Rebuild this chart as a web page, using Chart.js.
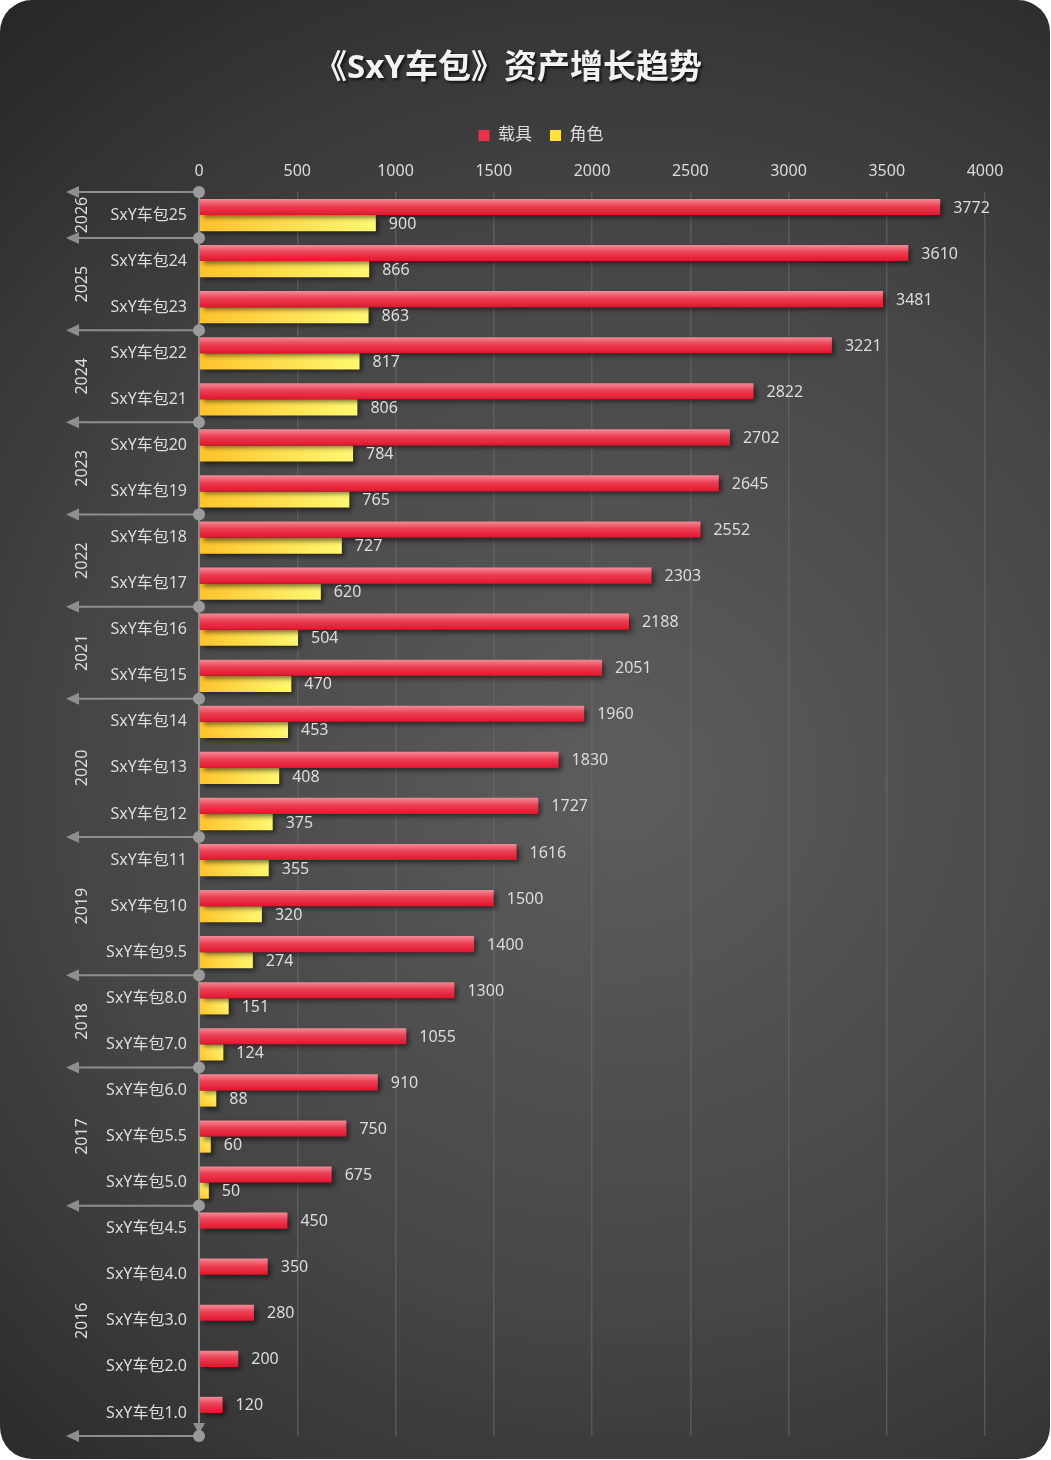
<!DOCTYPE html>
<html>
<head>
<meta charset="utf-8">
<script src="https://cdn.jsdelivr.net/npm/chart.js@4/dist/chart.umd.min.js"></script>
<style>
  html, body { margin: 0; padding: 0; background: #ffffff; }
  #wrap { width: 1051px; height: 1460px; position: relative; }
</style>
</head>
<body>
<div id="wrap"><canvas id="c"></canvas></div>
<script>
// ---- data ----
const chartTitle = '《SxY车包》资产增长趋势';
const seriesNames = ['载具', '角色'];
const categories = ['SxY车包25','SxY车包24','SxY车包23','SxY车包22','SxY车包21','SxY车包20','SxY车包19','SxY车包18','SxY车包17','SxY车包16','SxY车包15','SxY车包14','SxY车包13','SxY车包12','SxY车包11','SxY车包10','SxY车包9.5','SxY车包8.0','SxY车包7.0','SxY车包6.0','SxY车包5.5','SxY车包5.0','SxY车包4.5','SxY车包4.0','SxY车包3.0','SxY车包2.0','SxY车包1.0'];
const vehicleValues = [3772,3610,3481,3221,2822,2702,2645,2552,2303,2188,2051,1960,1830,1727,1616,1500,1400,1300,1055,910,750,675,450,350,280,200,120];
const roleValues = [900,866,863,817,806,784,765,727,620,504,470,453,408,375,355,320,274,151,124,88,60,50,null,null,null,null,null];
const years = ['2026','2025','2024','2023','2022','2021','2020','2019','2018','2017','2016'];
const yearGroupSizes = [1,2,2,2,2,2,3,3,2,3,5];
const xTickValues = [0,500,1000,1500,2000,2500,3000,3500,4000];

const FONT = '"Noto Sans", "Noto Sans CJK SC", sans-serif';
const TXT = '#dcdcdc';
const LINE = '#8e8e8e';

function barGeom(chart, idx) {
  const ys = chart.scales.y;
  const c = ys.getPixelForValue(idx);
  const band = Math.abs(ys.getPixelForValue(1) - ys.getPixelForValue(0));
  return { c, t: band * 0.35 };
}

function redFill(ctx) {
  const chart = ctx.chart;
  if (ctx.dataIndex === undefined || !chart.scales || !chart.scales.y || !chart.chartArea) return '#e8303f';
  const { c, t } = barGeom(chart, ctx.dataIndex);
  const g = chart.ctx.createLinearGradient(0, c - t, 0, c);
  g.addColorStop(0, '#f38b96');
  g.addColorStop(0.45, '#ec3f53');
  g.addColorStop(1, '#e2152d');
  return g;
}
function yellowFill(ctx) {
  const chart = ctx.chart;
  if (ctx.dataIndex === undefined || !chart.scales || !chart.scales.y || !chart.chartArea) return '#ffe040';
  const { c, t } = barGeom(chart, ctx.dataIndex);
  const xs = chart.scales.x;
  const v = roleValues[ctx.dataIndex] || 0;
  const x0 = xs.getPixelForValue(0), x1 = Math.max(xs.getPixelForValue(v), x0 + 1);
  const g = chart.ctx.createLinearGradient(x0, c + t, x1, c);
  g.addColorStop(0, '#ffc22a');
  g.addColorStop(1, '#fff972');
  return g;
}

const bgPlugin = {
  id: 'cardBg',
  beforeDraw(chart) {
    const { ctx, width, height } = chart;
    ctx.save();
    ctx.fillStyle = '#ffffff';
    ctx.fillRect(0, 0, width, height);
    const g = ctx.createRadialGradient(620, 780, 20, 620, 780, 980);
    g.addColorStop(0, '#5c5c5c');
    g.addColorStop(0.55, '#454545');
    g.addColorStop(1, '#272727');
    ctx.fillStyle = g;
    ctx.beginPath();
    ctx.roundRect(0, 0, width - 1, height - 1, 32);
    ctx.fill();
    // title
    ctx.font = 'bold 33px ' + FONT;
    ctx.textAlign = 'center';
    ctx.textBaseline = 'middle';
    ctx.shadowColor = 'rgba(0,0,0,0.7)';
    ctx.shadowBlur = 3;
    ctx.shadowOffsetX = 2;
    ctx.shadowOffsetY = 2;
    ctx.fillStyle = '#f2f2f2';
    ctx.fillText(chartTitle, 508, 69);
    ctx.restore();
  }
};

const shadowPlugin = {
  id: 'barShadow',
  beforeDatasetsDraw(chart) {
    const ctx = chart.ctx;
    ctx.save();
    ctx.shadowColor = 'rgba(0,0,0,0.55)';
    ctx.shadowBlur = 5;
    ctx.shadowOffsetX = 3;
    ctx.shadowOffsetY = 3;
  },
  afterDatasetsDraw(chart) {
    chart.ctx.restore();
    const ctx = chart.ctx;
    ctx.save();
    ctx.font = '16px ' + FONT;
    ctx.fillStyle = TXT;
    ctx.textAlign = 'left';
    ctx.textBaseline = 'middle';
    chart.data.datasets.forEach((ds, di) => {
      const meta = chart.getDatasetMeta(di);
      meta.data.forEach((el, i) => {
        const v = ds.data[i];
        if (v === null || v === undefined) return;
        ctx.fillText(String(v), el.x + 13, el.y + 1);
      });
    });
    ctx.restore();
  }
};

const yearPlugin = {
  id: 'yearGroups',
  afterDraw(chart) {
    const ctx = chart.ctx;
    const ys = chart.scales.y;
    const left = chart.chartArea.left;
    ctx.save();
    const bottom = ys.getPixelForValue(categories.length - 0.5);
    ctx.fillStyle = LINE;
    ctx.beginPath();
    ctx.moveTo(left - 6, bottom - 13);
    ctx.lineTo(left + 6, bottom - 13);
    ctx.lineTo(left, bottom - 2);
    ctx.closePath();
    ctx.fill();

    const bounds = [];
    let s = 0;
    bounds.push(ys.getPixelForValue(-0.5));
    yearGroupSizes.forEach(n => { s += n; bounds.push(ys.getPixelForValue(s - 0.5)); });

    bounds.forEach(y => {
      ctx.strokeStyle = LINE;
      ctx.lineWidth = 2;
      ctx.beginPath();
      ctx.moveTo(76, y);
      ctx.lineTo(left, y);
      ctx.stroke();
      ctx.fillStyle = LINE;
      ctx.beginPath();
      ctx.moveTo(66, y);
      ctx.lineTo(79, y - 6);
      ctx.lineTo(79, y + 6);
      ctx.closePath();
      ctx.fill();
      ctx.fillStyle = '#9a9a9a';
      ctx.beginPath();
      ctx.arc(left, y, 6, 0, Math.PI * 2);
      ctx.fill();
    });

    ctx.font = '16px ' + FONT;
    ctx.fillStyle = TXT;
    ctx.textAlign = 'center';
    ctx.textBaseline = 'middle';
    years.forEach((yr, i) => {
      const mid = (bounds[i] + bounds[i + 1]) / 2;
      ctx.save();
      ctx.translate(82, mid);
      ctx.rotate(-Math.PI / 2);
      ctx.fillText(yr, 0, 0);
      ctx.restore();
    });
    ctx.restore();
  }
};

new Chart(document.getElementById('c'), {
  type: 'bar',
  data: {
    labels: categories,
    datasets: [
      { label: seriesNames[0], data: vehicleValues, backgroundColor: redFill, borderWidth: 0 },
      { label: seriesNames[1], data: roleValues, backgroundColor: yellowFill, borderWidth: 0 }
    ]
  },
  options: {
    indexAxis: 'y',
    responsive: true,
    maintainAspectRatio: false,
    animation: false,
    devicePixelRatio: 1,
    categoryPercentage: 0.7,
    barPercentage: 1.0,
    layout: { padding: { left: 97, right: 66, top: 109, bottom: 24 } },
    plugins: {
      title: { display: false },
      legend: {
        display: true,
        position: 'top',
        labels: {
          color: TXT,
          font: { family: FONT, size: 17 },
          boxWidth: 11,
          boxHeight: 11,
          padding: 18,
          generateLabels(chart) {
            const cols = ['#ea3246', '#ffe23a'];
            return chart.data.datasets.map((ds, i) => ({
              text: ds.label,
              fillStyle: cols[i],
              strokeStyle: cols[i],
              lineWidth: 0,
              fontColor: TXT,
              hidden: !chart.isDatasetVisible(i),
              datasetIndex: i
            }));
          }
        }
      },
      tooltip: { enabled: false }
    },
    scales: {
      x: {
        position: 'top',
        min: 0,
        max: 4000,
        afterBuildTicks(scale) { scale.ticks = xTickValues.map(v => ({ value: v })); },
        afterFit(scale) { scale.height = 38; },
        ticks: { color: TXT, font: { family: FONT, size: 16 }, padding: 11, callback: (v) => String(v) },
        grid: {
          color: (c) => (c.tick && c.tick.value === 0) ? 'rgba(0,0,0,0)' : 'rgba(110,110,110,0.55)',
          lineWidth: 1.5,
          drawTicks: false
        },
        border: { display: false }
      },
      y: {
        afterFit(scale) { scale.width = 102; },
        ticks: { color: TXT, font: { family: FONT, size: 16 }, padding: 12 },
        grid: { display: false, drawTicks: false },
        border: { display: true, color: LINE, width: 2 }
      }
    }
  },
  plugins: [bgPlugin, shadowPlugin, yearPlugin]
});
</script>
</body>
</html>
